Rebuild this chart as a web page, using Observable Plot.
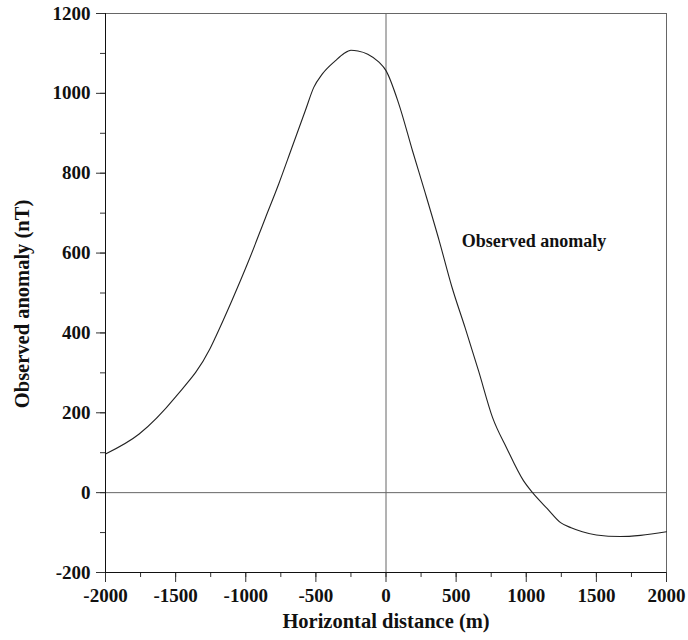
<!DOCTYPE html>
<html>
<head>
<meta charset="utf-8">
<script src="https://cdn.jsdelivr.net/npm/d3@7"></script>
<script src="https://cdn.jsdelivr.net/npm/@observablehq/plot@0.6"></script>
<style>
  html, body { margin: 0; padding: 0; background: white; }
</style>
</head>
<body>
<div id="chart"></div>
<script>
// Horizontal distance (m)
const distance = [-2000, -1760, -1500, -1260, -1215, -1100, -980, -860, -765, -670, -575, -515, -455, -360, -300, -250, -200, -130, -50, 0, 90, 190, 280, 380, 470, 565, 660, 760, 860, 980, 1045, 1150, 1245, 1320, 1400, 1500, 1670, 1815, 2000];
// Observed anomaly (nT)
const anomaly = [97, 147, 240, 357, 390, 480, 580, 688, 773, 865, 957, 1015, 1048, 1082, 1100, 1108, 1106, 1098, 1078, 1057, 975, 855, 750, 630, 515, 412, 305, 188, 112, 30, 0, -40, -75, -88, -98, -106, -110, -107, -98];

const xMajorTicks = [-2000, -1500, -1000, -500, 0, 500, 1000, 1500, 2000];
const xMinorTicks = d3.range(-2000, 2001, 250);
const yMajorTicks = [-200, 0, 200, 400, 600, 800, 1000, 1200];
const yMinorTicks = d3.range(-200, 1201, 100);

const xTitle = "Horizontal distance (m)";
const yTitle = "Observed anomaly (nT)";
const annotation = [{x: 540, y: 630, label: "Observed anomaly"}];

const data = distance.map((x, i) => ({x, y: anomaly[i]}));

const chart = Plot.plot({
  width: 688,
  height: 640,
  marginLeft: 105,
  marginRight: 22,
  marginTop: 13,
  marginBottom: 68,
  x: {domain: [-2000, 2000]},
  y: {domain: [-200, 1200]},
  style: {
    fontFamily: "'Liberation Serif', 'Times New Roman', serif",
    fontSize: "19px",
    fontWeight: "bold",
    color: "#111",
    background: "white"
  },
  marks: [
    Plot.ruleY([1200], {stroke: "#666"}),
    Plot.ruleX([2000], {stroke: "#666"}),
    Plot.ruleY([0], {stroke: "#666"}),
    Plot.ruleX([0], {stroke: "#666"}),
    Plot.axisX(xMinorTicks, {tickSize: 5, text: null, label: null, stroke: "#333"}),
    Plot.axisY(yMinorTicks, {tickSize: 5, text: null, label: null, stroke: "#333"}),
    Plot.axisX(xMajorTicks, {tickSize: 10, tickPadding: 6, label: null, tickFormat: d => String(d), stroke: "#333"}),
    Plot.axisY(yMajorTicks, {tickSize: 9, tickPadding: 6, label: null, tickFormat: d => String(d), stroke: "#333"}),
    Plot.ruleX([-2000], {stroke: "#111"}),
    Plot.ruleY([-200], {stroke: "#111"}),
    Plot.line(data, {x: "x", y: "y", stroke: "#222", strokeWidth: 1.1, curve: "monotone-x"}),
    Plot.text(annotation, {x: "x", y: "y", text: "label", textAnchor: "start", fontSize: 18}),
    Plot.text([xTitle], {text: d => d, frameAnchor: "bottom", dy: 55, fontSize: 20.5}),
    Plot.text([yTitle], {text: d => d, frameAnchor: "left", textAnchor: "middle", dx: -83, dy: 11, rotate: -90, fontSize: 20.5})
  ]
});
document.getElementById("chart").appendChild(chart);
</script>
</body>
</html>
